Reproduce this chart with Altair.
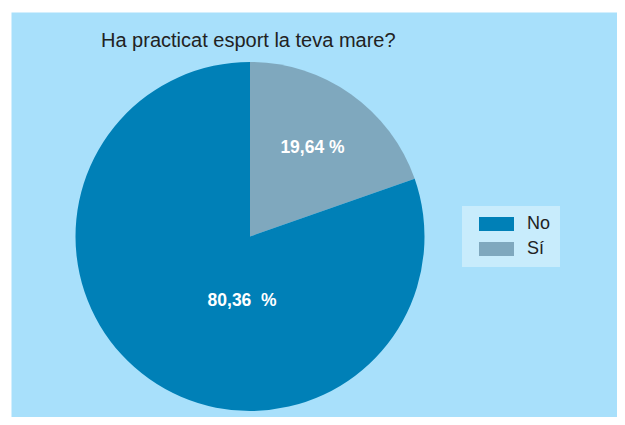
import altair as alt
import pandas as pd

categories = ["Sí", "No"]
values = [19.64, 80.36]
labels = ["19,64 %", "80,36\u00a0 %"]
order_idx = [0, 1]
legend_order = ["No", "Sí"]
colors = ["#0080b7", "#7fa8be"]
title_text = "Ha practicat esport la teva mare?"

df = pd.DataFrame({"cat": categories, "val": values, "label": labels, "ord": order_idx})

CX, CY = 239, 224.5

base = alt.Chart(df).encode(
    theta=alt.Theta("val:Q", stack=True),
    order=alt.Order("ord:Q"),
    x=alt.value(CX),
    y=alt.value(CY),
)

pie = base.mark_arc(outerRadius=174.5).encode(
    color=alt.Color(
        "cat:N",
        scale=alt.Scale(domain=legend_order, range=colors),
        legend=alt.Legend(
            orient="none",
            legendX=451,
            legendY=194,
            title=None,
            fillColor="#c8ecfc",
            padding=9,
            symbolType="M-2.5,-1H2.5V1H-2.5Z",
            symbolSize=196,
            symbolStrokeWidth=0,
            symbolOffset=16.5,
            labelOffset=21.5,
            labelFontSize=18,
            labelFont="Liberation Sans",
            labelColor="#222222",
            rowPadding=7,
            labelExpr="datum.label + ' '",
        ),
    )
)

txt_si = base.mark_text(
    radius=108, font="Liberation Sans", fontSize=17.5, fontWeight="bold", color="white"
).encode(text=alt.condition(alt.datum.cat == "Sí", "label:N", alt.value("")))

txt_no = base.mark_text(
    radius=65, thetaOffset=-0.495, font="Liberation Sans", fontSize=17.5, fontWeight="bold", color="white"
).encode(text=alt.condition(alt.datum.cat == "No", "label:N", alt.value("")))

title = alt.Chart(pd.DataFrame({"t": [title_text]})).mark_text(
    align="left", baseline="alphabetic", fontSize=20, font="Liberation Sans", color="#222222"
).encode(text="t:N", x=alt.value(90), y=alt.value(35))

chart = (
    alt.layer(pie, txt_si, txt_no, title)
    .properties(
        width=606,
        height=405,
        padding={"left": 3, "top": 4, "right": 0, "bottom": 0},
        autosize="none",
        background="white",
    )
    .configure_view(fill="#a8e0fb", strokeOpacity=0)
)

chart.save("out.html", embed_options={"renderer": "svg", "actions": False})
